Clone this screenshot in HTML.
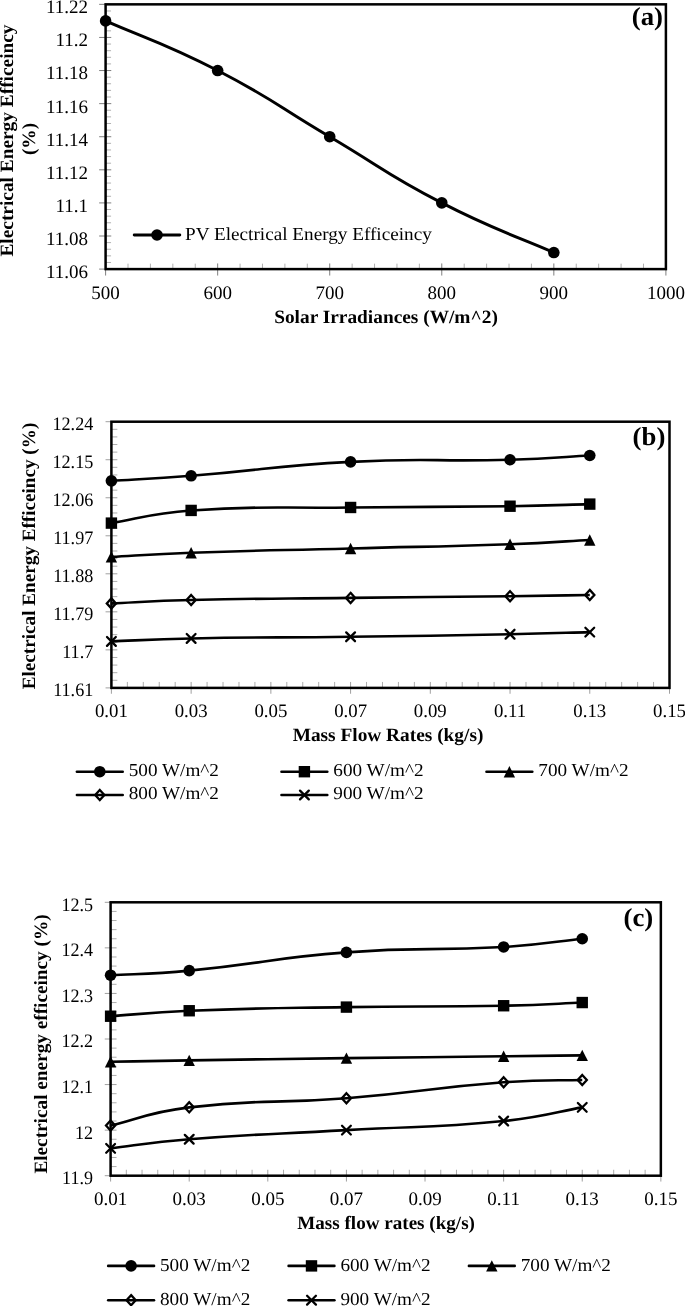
<!DOCTYPE html>
<html><head><meta charset="utf-8"><title>Charts</title>
<style>
html,body{margin:0;padding:0;background:#fff;}
body{width:685px;height:1306px;overflow:hidden;font-family:"Liberation Serif",serif;}
svg{display:block;will-change:transform;}
</style></head><body>
<svg width="685" height="1306" viewBox="0 0 685 1306" font-family='"Liberation Serif", serif' fill="#000" text-rendering="geometricPrecision">
<g>
<line x1="105.60" y1="263.45" x2="105.60" y2="275.55" stroke="#707070" stroke-width="0.90"/>
<line x1="128.01" y1="269.10" x2="128.01" y2="263.65" stroke="#a8a8a8" stroke-width="0.90"/>
<line x1="150.42" y1="269.10" x2="150.42" y2="263.65" stroke="#a8a8a8" stroke-width="0.90"/>
<line x1="172.84" y1="269.10" x2="172.84" y2="263.65" stroke="#a8a8a8" stroke-width="0.90"/>
<line x1="195.25" y1="269.10" x2="195.25" y2="263.65" stroke="#a8a8a8" stroke-width="0.90"/>
<line x1="217.66" y1="263.45" x2="217.66" y2="275.55" stroke="#707070" stroke-width="0.90"/>
<line x1="240.07" y1="269.10" x2="240.07" y2="263.65" stroke="#a8a8a8" stroke-width="0.90"/>
<line x1="262.48" y1="269.10" x2="262.48" y2="263.65" stroke="#a8a8a8" stroke-width="0.90"/>
<line x1="284.90" y1="269.10" x2="284.90" y2="263.65" stroke="#a8a8a8" stroke-width="0.90"/>
<line x1="307.31" y1="269.10" x2="307.31" y2="263.65" stroke="#a8a8a8" stroke-width="0.90"/>
<line x1="329.72" y1="263.45" x2="329.72" y2="275.55" stroke="#707070" stroke-width="0.90"/>
<line x1="352.13" y1="269.10" x2="352.13" y2="263.65" stroke="#a8a8a8" stroke-width="0.90"/>
<line x1="374.54" y1="269.10" x2="374.54" y2="263.65" stroke="#a8a8a8" stroke-width="0.90"/>
<line x1="396.96" y1="269.10" x2="396.96" y2="263.65" stroke="#a8a8a8" stroke-width="0.90"/>
<line x1="419.37" y1="269.10" x2="419.37" y2="263.65" stroke="#a8a8a8" stroke-width="0.90"/>
<line x1="441.78" y1="263.45" x2="441.78" y2="275.55" stroke="#707070" stroke-width="0.90"/>
<line x1="464.19" y1="269.10" x2="464.19" y2="263.65" stroke="#a8a8a8" stroke-width="0.90"/>
<line x1="486.60" y1="269.10" x2="486.60" y2="263.65" stroke="#a8a8a8" stroke-width="0.90"/>
<line x1="509.02" y1="269.10" x2="509.02" y2="263.65" stroke="#a8a8a8" stroke-width="0.90"/>
<line x1="531.43" y1="269.10" x2="531.43" y2="263.65" stroke="#a8a8a8" stroke-width="0.90"/>
<line x1="553.84" y1="263.45" x2="553.84" y2="275.55" stroke="#707070" stroke-width="0.90"/>
<line x1="576.25" y1="269.10" x2="576.25" y2="263.65" stroke="#a8a8a8" stroke-width="0.90"/>
<line x1="598.66" y1="269.10" x2="598.66" y2="263.65" stroke="#a8a8a8" stroke-width="0.90"/>
<line x1="621.08" y1="269.10" x2="621.08" y2="263.65" stroke="#a8a8a8" stroke-width="0.90"/>
<line x1="643.49" y1="269.10" x2="643.49" y2="263.65" stroke="#a8a8a8" stroke-width="0.90"/>
<line x1="665.90" y1="263.45" x2="665.90" y2="275.55" stroke="#707070" stroke-width="0.90"/>
<line x1="99.15" y1="4.35" x2="111.25" y2="4.35" stroke="#707070" stroke-width="0.90"/>
<line x1="105.60" y1="10.97" x2="111.05" y2="10.97" stroke="#a8a8a8" stroke-width="0.90"/>
<line x1="105.60" y1="17.59" x2="111.05" y2="17.59" stroke="#a8a8a8" stroke-width="0.90"/>
<line x1="105.60" y1="24.21" x2="111.05" y2="24.21" stroke="#a8a8a8" stroke-width="0.90"/>
<line x1="105.60" y1="30.83" x2="111.05" y2="30.83" stroke="#a8a8a8" stroke-width="0.90"/>
<line x1="99.15" y1="37.44" x2="111.25" y2="37.44" stroke="#707070" stroke-width="0.90"/>
<line x1="105.60" y1="44.06" x2="111.05" y2="44.06" stroke="#a8a8a8" stroke-width="0.90"/>
<line x1="105.60" y1="50.68" x2="111.05" y2="50.68" stroke="#a8a8a8" stroke-width="0.90"/>
<line x1="105.60" y1="57.30" x2="111.05" y2="57.30" stroke="#a8a8a8" stroke-width="0.90"/>
<line x1="105.60" y1="63.92" x2="111.05" y2="63.92" stroke="#a8a8a8" stroke-width="0.90"/>
<line x1="99.15" y1="70.54" x2="111.25" y2="70.54" stroke="#707070" stroke-width="0.90"/>
<line x1="105.60" y1="77.16" x2="111.05" y2="77.16" stroke="#a8a8a8" stroke-width="0.90"/>
<line x1="105.60" y1="83.77" x2="111.05" y2="83.77" stroke="#a8a8a8" stroke-width="0.90"/>
<line x1="105.60" y1="90.39" x2="111.05" y2="90.39" stroke="#a8a8a8" stroke-width="0.90"/>
<line x1="105.60" y1="97.01" x2="111.05" y2="97.01" stroke="#a8a8a8" stroke-width="0.90"/>
<line x1="99.15" y1="103.63" x2="111.25" y2="103.63" stroke="#707070" stroke-width="0.90"/>
<line x1="105.60" y1="110.25" x2="111.05" y2="110.25" stroke="#a8a8a8" stroke-width="0.90"/>
<line x1="105.60" y1="116.87" x2="111.05" y2="116.87" stroke="#a8a8a8" stroke-width="0.90"/>
<line x1="105.60" y1="123.49" x2="111.05" y2="123.49" stroke="#a8a8a8" stroke-width="0.90"/>
<line x1="105.60" y1="130.11" x2="111.05" y2="130.11" stroke="#a8a8a8" stroke-width="0.90"/>
<line x1="99.15" y1="136.72" x2="111.25" y2="136.72" stroke="#707070" stroke-width="0.90"/>
<line x1="105.60" y1="143.34" x2="111.05" y2="143.34" stroke="#a8a8a8" stroke-width="0.90"/>
<line x1="105.60" y1="149.96" x2="111.05" y2="149.96" stroke="#a8a8a8" stroke-width="0.90"/>
<line x1="105.60" y1="156.58" x2="111.05" y2="156.58" stroke="#a8a8a8" stroke-width="0.90"/>
<line x1="105.60" y1="163.20" x2="111.05" y2="163.20" stroke="#a8a8a8" stroke-width="0.90"/>
<line x1="99.15" y1="169.82" x2="111.25" y2="169.82" stroke="#707070" stroke-width="0.90"/>
<line x1="105.60" y1="176.44" x2="111.05" y2="176.44" stroke="#a8a8a8" stroke-width="0.90"/>
<line x1="105.60" y1="183.06" x2="111.05" y2="183.06" stroke="#a8a8a8" stroke-width="0.90"/>
<line x1="105.60" y1="189.67" x2="111.05" y2="189.67" stroke="#a8a8a8" stroke-width="0.90"/>
<line x1="105.60" y1="196.29" x2="111.05" y2="196.29" stroke="#a8a8a8" stroke-width="0.90"/>
<line x1="99.15" y1="202.91" x2="111.25" y2="202.91" stroke="#707070" stroke-width="0.90"/>
<line x1="105.60" y1="209.53" x2="111.05" y2="209.53" stroke="#a8a8a8" stroke-width="0.90"/>
<line x1="105.60" y1="216.15" x2="111.05" y2="216.15" stroke="#a8a8a8" stroke-width="0.90"/>
<line x1="105.60" y1="222.77" x2="111.05" y2="222.77" stroke="#a8a8a8" stroke-width="0.90"/>
<line x1="105.60" y1="229.39" x2="111.05" y2="229.39" stroke="#a8a8a8" stroke-width="0.90"/>
<line x1="99.15" y1="236.01" x2="111.25" y2="236.01" stroke="#707070" stroke-width="0.90"/>
<line x1="105.60" y1="242.62" x2="111.05" y2="242.62" stroke="#a8a8a8" stroke-width="0.90"/>
<line x1="105.60" y1="249.24" x2="111.05" y2="249.24" stroke="#a8a8a8" stroke-width="0.90"/>
<line x1="105.60" y1="255.86" x2="111.05" y2="255.86" stroke="#a8a8a8" stroke-width="0.90"/>
<line x1="105.60" y1="262.48" x2="111.05" y2="262.48" stroke="#a8a8a8" stroke-width="0.90"/>
<line x1="99.15" y1="269.10" x2="111.25" y2="269.10" stroke="#707070" stroke-width="0.90"/>
<rect x="105.60" y="4.35" width="560.30" height="264.75" fill="none" stroke="#000" stroke-width="2.50"/>
<path d="M105.60,20.90 C142.95,37.44 163.31,42.45 217.66,70.54 C275.37,100.36 273.69,103.63 329.72,136.72 C385.75,169.82 384.07,173.09 441.78,202.91 C496.13,231.00 516.49,236.01 553.84,252.55" fill="none" stroke="#000" stroke-width="2.90" stroke-linejoin="round"/>
<circle cx="105.60" cy="20.90" r="5.80" fill="#000"/>
<circle cx="217.66" cy="70.54" r="5.80" fill="#000"/>
<circle cx="329.72" cy="136.72" r="5.80" fill="#000"/>
<circle cx="441.78" cy="202.91" r="5.80" fill="#000"/>
<circle cx="553.84" cy="252.55" r="5.80" fill="#000"/>
<text transform="translate(105.60 299.00)" font-size="19.00" text-anchor="middle">500</text>
<text transform="translate(217.66 299.00)" font-size="19.00" text-anchor="middle">600</text>
<text transform="translate(329.72 299.00)" font-size="19.00" text-anchor="middle">700</text>
<text transform="translate(441.78 299.00)" font-size="19.00" text-anchor="middle">800</text>
<text transform="translate(553.84 299.00)" font-size="19.00" text-anchor="middle">900</text>
<text transform="translate(665.90 299.00)" font-size="19.00" text-anchor="middle">1000</text>
<text transform="translate(88.00 13.25)" font-size="19.00" text-anchor="end">11.22</text>
<text transform="translate(88.00 46.34)" font-size="19.00" text-anchor="end">11.2</text>
<text transform="translate(88.00 79.44)" font-size="19.00" text-anchor="end">11.18</text>
<text transform="translate(88.00 112.53)" font-size="19.00" text-anchor="end">11.16</text>
<text transform="translate(88.00 145.62)" font-size="19.00" text-anchor="end">11.14</text>
<text transform="translate(88.00 178.72)" font-size="19.00" text-anchor="end">11.12</text>
<text transform="translate(88.00 211.81)" font-size="19.00" text-anchor="end">11.1</text>
<text transform="translate(88.00 244.91)" font-size="19.00" text-anchor="end">11.08</text>
<text transform="translate(88.00 278.00)" font-size="19.00" text-anchor="end">11.06</text>
<text transform="translate(631.80 24.80) scale(1.0300 1)" font-size="26.00" text-anchor="start" font-weight="bold">(a)</text>
<text transform="translate(386.00 323.00) scale(1.0300 1)" font-size="18.80" text-anchor="middle" font-weight="bold">Solar Irradiances (W/m^2)</text>
<text transform="translate(13.40 140.50) rotate(-90) scale(1.0300 1)" font-size="18.80" text-anchor="middle" font-weight="bold">Electrical Energy Efficeincy</text>
<text transform="translate(35.20 139.00) rotate(-90) scale(1.0300 1)" font-size="18.80" text-anchor="middle" font-weight="bold">(%)</text>
<line x1="134.20" y1="235.00" x2="179.80" y2="235.00" stroke="#000" stroke-width="2.90" stroke-linecap="round"/>
<circle cx="157.00" cy="235.00" r="5.80" fill="#000"/>
<text transform="translate(185.00 239.80) scale(1.0500 1)" font-size="18.30" text-anchor="start">PV Electrical Energy Efficeincy</text>
</g>
<g>
<line x1="111.40" y1="681.95" x2="111.40" y2="693.75" stroke="#a0a0a0" stroke-width="1.00"/>
<line x1="127.35" y1="687.90" x2="127.35" y2="681.95" stroke="#adadad" stroke-width="1.00"/>
<line x1="143.29" y1="687.90" x2="143.29" y2="681.95" stroke="#adadad" stroke-width="1.00"/>
<line x1="159.24" y1="687.90" x2="159.24" y2="681.95" stroke="#adadad" stroke-width="1.00"/>
<line x1="175.18" y1="687.90" x2="175.18" y2="681.95" stroke="#adadad" stroke-width="1.00"/>
<line x1="191.13" y1="681.95" x2="191.13" y2="693.75" stroke="#a0a0a0" stroke-width="1.00"/>
<line x1="207.07" y1="687.90" x2="207.07" y2="681.95" stroke="#adadad" stroke-width="1.00"/>
<line x1="223.02" y1="687.90" x2="223.02" y2="681.95" stroke="#adadad" stroke-width="1.00"/>
<line x1="238.97" y1="687.90" x2="238.97" y2="681.95" stroke="#adadad" stroke-width="1.00"/>
<line x1="254.91" y1="687.90" x2="254.91" y2="681.95" stroke="#adadad" stroke-width="1.00"/>
<line x1="270.86" y1="681.95" x2="270.86" y2="693.75" stroke="#a0a0a0" stroke-width="1.00"/>
<line x1="286.80" y1="687.90" x2="286.80" y2="681.95" stroke="#adadad" stroke-width="1.00"/>
<line x1="302.75" y1="687.90" x2="302.75" y2="681.95" stroke="#adadad" stroke-width="1.00"/>
<line x1="318.69" y1="687.90" x2="318.69" y2="681.95" stroke="#adadad" stroke-width="1.00"/>
<line x1="334.64" y1="687.90" x2="334.64" y2="681.95" stroke="#adadad" stroke-width="1.00"/>
<line x1="350.59" y1="681.95" x2="350.59" y2="693.75" stroke="#a0a0a0" stroke-width="1.00"/>
<line x1="366.53" y1="687.90" x2="366.53" y2="681.95" stroke="#adadad" stroke-width="1.00"/>
<line x1="382.48" y1="687.90" x2="382.48" y2="681.95" stroke="#adadad" stroke-width="1.00"/>
<line x1="398.42" y1="687.90" x2="398.42" y2="681.95" stroke="#adadad" stroke-width="1.00"/>
<line x1="414.37" y1="687.90" x2="414.37" y2="681.95" stroke="#adadad" stroke-width="1.00"/>
<line x1="430.31" y1="681.95" x2="430.31" y2="693.75" stroke="#a0a0a0" stroke-width="1.00"/>
<line x1="446.26" y1="687.90" x2="446.26" y2="681.95" stroke="#adadad" stroke-width="1.00"/>
<line x1="462.21" y1="687.90" x2="462.21" y2="681.95" stroke="#adadad" stroke-width="1.00"/>
<line x1="478.15" y1="687.90" x2="478.15" y2="681.95" stroke="#adadad" stroke-width="1.00"/>
<line x1="494.10" y1="687.90" x2="494.10" y2="681.95" stroke="#adadad" stroke-width="1.00"/>
<line x1="510.04" y1="681.95" x2="510.04" y2="693.75" stroke="#a0a0a0" stroke-width="1.00"/>
<line x1="525.99" y1="687.90" x2="525.99" y2="681.95" stroke="#adadad" stroke-width="1.00"/>
<line x1="541.93" y1="687.90" x2="541.93" y2="681.95" stroke="#adadad" stroke-width="1.00"/>
<line x1="557.88" y1="687.90" x2="557.88" y2="681.95" stroke="#adadad" stroke-width="1.00"/>
<line x1="573.83" y1="687.90" x2="573.83" y2="681.95" stroke="#adadad" stroke-width="1.00"/>
<line x1="589.77" y1="681.95" x2="589.77" y2="693.75" stroke="#a0a0a0" stroke-width="1.00"/>
<line x1="605.72" y1="687.90" x2="605.72" y2="681.95" stroke="#adadad" stroke-width="1.00"/>
<line x1="621.66" y1="687.90" x2="621.66" y2="681.95" stroke="#adadad" stroke-width="1.00"/>
<line x1="637.61" y1="687.90" x2="637.61" y2="681.95" stroke="#adadad" stroke-width="1.00"/>
<line x1="653.55" y1="687.90" x2="653.55" y2="681.95" stroke="#adadad" stroke-width="1.00"/>
<line x1="669.50" y1="681.95" x2="669.50" y2="693.75" stroke="#a0a0a0" stroke-width="1.00"/>
<line x1="105.55" y1="421.70" x2="117.35" y2="421.70" stroke="#a0a0a0" stroke-width="1.00"/>
<line x1="111.40" y1="429.31" x2="117.35" y2="429.31" stroke="#adadad" stroke-width="1.00"/>
<line x1="111.40" y1="436.91" x2="117.35" y2="436.91" stroke="#adadad" stroke-width="1.00"/>
<line x1="111.40" y1="444.52" x2="117.35" y2="444.52" stroke="#adadad" stroke-width="1.00"/>
<line x1="111.40" y1="452.12" x2="117.35" y2="452.12" stroke="#adadad" stroke-width="1.00"/>
<line x1="105.55" y1="459.73" x2="117.35" y2="459.73" stroke="#a0a0a0" stroke-width="1.00"/>
<line x1="111.40" y1="467.33" x2="117.35" y2="467.33" stroke="#adadad" stroke-width="1.00"/>
<line x1="111.40" y1="474.94" x2="117.35" y2="474.94" stroke="#adadad" stroke-width="1.00"/>
<line x1="111.40" y1="482.55" x2="117.35" y2="482.55" stroke="#adadad" stroke-width="1.00"/>
<line x1="111.40" y1="490.15" x2="117.35" y2="490.15" stroke="#adadad" stroke-width="1.00"/>
<line x1="105.55" y1="497.76" x2="117.35" y2="497.76" stroke="#a0a0a0" stroke-width="1.00"/>
<line x1="111.40" y1="505.36" x2="117.35" y2="505.36" stroke="#adadad" stroke-width="1.00"/>
<line x1="111.40" y1="512.97" x2="117.35" y2="512.97" stroke="#adadad" stroke-width="1.00"/>
<line x1="111.40" y1="520.57" x2="117.35" y2="520.57" stroke="#adadad" stroke-width="1.00"/>
<line x1="111.40" y1="528.18" x2="117.35" y2="528.18" stroke="#adadad" stroke-width="1.00"/>
<line x1="105.55" y1="535.79" x2="117.35" y2="535.79" stroke="#a0a0a0" stroke-width="1.00"/>
<line x1="111.40" y1="543.39" x2="117.35" y2="543.39" stroke="#adadad" stroke-width="1.00"/>
<line x1="111.40" y1="551.00" x2="117.35" y2="551.00" stroke="#adadad" stroke-width="1.00"/>
<line x1="111.40" y1="558.60" x2="117.35" y2="558.60" stroke="#adadad" stroke-width="1.00"/>
<line x1="111.40" y1="566.21" x2="117.35" y2="566.21" stroke="#adadad" stroke-width="1.00"/>
<line x1="105.55" y1="573.81" x2="117.35" y2="573.81" stroke="#a0a0a0" stroke-width="1.00"/>
<line x1="111.40" y1="581.42" x2="117.35" y2="581.42" stroke="#adadad" stroke-width="1.00"/>
<line x1="111.40" y1="589.03" x2="117.35" y2="589.03" stroke="#adadad" stroke-width="1.00"/>
<line x1="111.40" y1="596.63" x2="117.35" y2="596.63" stroke="#adadad" stroke-width="1.00"/>
<line x1="111.40" y1="604.24" x2="117.35" y2="604.24" stroke="#adadad" stroke-width="1.00"/>
<line x1="105.55" y1="611.84" x2="117.35" y2="611.84" stroke="#a0a0a0" stroke-width="1.00"/>
<line x1="111.40" y1="619.45" x2="117.35" y2="619.45" stroke="#adadad" stroke-width="1.00"/>
<line x1="111.40" y1="627.05" x2="117.35" y2="627.05" stroke="#adadad" stroke-width="1.00"/>
<line x1="111.40" y1="634.66" x2="117.35" y2="634.66" stroke="#adadad" stroke-width="1.00"/>
<line x1="111.40" y1="642.27" x2="117.35" y2="642.27" stroke="#adadad" stroke-width="1.00"/>
<line x1="105.55" y1="649.87" x2="117.35" y2="649.87" stroke="#a0a0a0" stroke-width="1.00"/>
<line x1="111.40" y1="657.48" x2="117.35" y2="657.48" stroke="#adadad" stroke-width="1.00"/>
<line x1="111.40" y1="665.08" x2="117.35" y2="665.08" stroke="#adadad" stroke-width="1.00"/>
<line x1="111.40" y1="672.69" x2="117.35" y2="672.69" stroke="#adadad" stroke-width="1.00"/>
<line x1="111.40" y1="680.29" x2="117.35" y2="680.29" stroke="#adadad" stroke-width="1.00"/>
<line x1="105.55" y1="687.90" x2="117.35" y2="687.90" stroke="#a0a0a0" stroke-width="1.00"/>
<rect x="111.40" y="421.70" width="558.10" height="266.20" fill="none" stroke="#000" stroke-width="2.50"/>
<path d="M111.40,480.86 C137.98,479.17 151.31,478.95 191.13,475.79 C270.90,469.44 270.71,465.86 350.59,461.84 C430.17,457.83 430.35,461.84 510.04,459.73 C549.94,458.67 563.20,456.91 589.77,455.50" fill="none" stroke="#000" stroke-width="2.60" stroke-linejoin="round"/>
<circle cx="111.40" cy="480.86" r="5.80" fill="#000"/>
<circle cx="191.13" cy="475.79" r="5.80" fill="#000"/>
<circle cx="350.59" cy="461.84" r="5.80" fill="#000"/>
<circle cx="510.04" cy="459.73" r="5.80" fill="#000"/>
<circle cx="589.77" cy="455.50" r="5.80" fill="#000"/>
<path d="M111.40,523.11 C137.98,518.88 150.94,513.06 191.13,510.43 C270.53,505.24 270.85,508.53 350.59,507.48 C430.31,506.42 430.32,507.33 510.04,506.21 C549.92,505.64 563.20,504.80 589.77,504.10" fill="none" stroke="#000" stroke-width="2.60" stroke-linejoin="round"/>
<rect x="105.70" y="517.41" width="11.40" height="11.40" fill="#000"/>
<rect x="185.43" y="504.73" width="11.40" height="11.40" fill="#000"/>
<rect x="344.89" y="501.78" width="11.40" height="11.40" fill="#000"/>
<rect x="504.34" y="500.51" width="11.40" height="11.40" fill="#000"/>
<rect x="584.07" y="498.40" width="11.40" height="11.40" fill="#000"/>
<path d="M111.40,556.91 C137.98,555.50 151.24,554.10 191.13,552.69 C270.83,549.87 270.86,550.57 350.59,548.46 C430.31,546.35 430.34,547.05 510.04,544.24 C549.94,542.83 563.20,541.42 589.77,540.01" fill="none" stroke="#000" stroke-width="2.60" stroke-linejoin="round"/>
<path d="M111.40,551.21 L117.10,562.61 L105.70,562.61 Z" fill="#000"/>
<path d="M191.13,546.99 L196.83,558.39 L185.43,558.39 Z" fill="#000"/>
<path d="M350.59,542.76 L356.29,554.16 L344.89,554.16 Z" fill="#000"/>
<path d="M510.04,538.54 L515.74,549.94 L504.34,549.94 Z" fill="#000"/>
<path d="M589.77,534.31 L595.47,545.71 L584.07,545.71 Z" fill="#000"/>
<path d="M111.40,603.39 C137.98,602.27 151.24,600.93 191.13,600.01 C270.84,598.18 270.86,598.85 350.59,597.90 C430.31,596.95 430.32,597.19 510.04,596.21 C549.91,595.72 563.20,595.36 589.77,594.94" fill="none" stroke="#000" stroke-width="2.60" stroke-linejoin="round"/>
<path d="M111.40,598.33 L116.00,603.39 L111.40,608.45 L106.80,603.39 Z" fill="none" stroke="#000" stroke-width="2.30" stroke-linejoin="miter"/>
<path d="M191.13,594.95 L195.73,600.01 L191.13,605.07 L186.53,600.01 Z" fill="none" stroke="#000" stroke-width="2.30" stroke-linejoin="miter"/>
<path d="M350.59,592.84 L355.19,597.90 L350.59,602.96 L345.99,597.90 Z" fill="none" stroke="#000" stroke-width="2.30" stroke-linejoin="miter"/>
<path d="M510.04,591.15 L514.64,596.21 L510.04,601.27 L505.44,596.21 Z" fill="none" stroke="#000" stroke-width="2.30" stroke-linejoin="miter"/>
<path d="M589.77,589.88 L594.37,594.94 L589.77,600.00 L585.17,594.94 Z" fill="none" stroke="#000" stroke-width="2.30" stroke-linejoin="miter"/>
<path d="M111.40,641.42 C137.98,640.43 151.25,639.24 191.13,638.46 C270.84,636.91 270.86,637.83 350.59,636.77 C430.32,635.72 430.32,635.79 510.04,634.24 C549.91,633.46 563.20,632.83 589.77,632.12" fill="none" stroke="#000" stroke-width="2.60" stroke-linejoin="round"/>
<path d="M107.00,637.02 L115.80,645.82 M107.00,645.82 L115.80,637.02" fill="none" stroke="#000" stroke-width="2.30" stroke-linecap="round"/>
<path d="M186.73,634.06 L195.53,642.86 M186.73,642.86 L195.53,634.06" fill="none" stroke="#000" stroke-width="2.30" stroke-linecap="round"/>
<path d="M346.19,632.37 L354.99,641.17 M346.19,641.17 L354.99,632.37" fill="none" stroke="#000" stroke-width="2.30" stroke-linecap="round"/>
<path d="M505.64,629.84 L514.44,638.64 M505.64,638.64 L514.44,629.84" fill="none" stroke="#000" stroke-width="2.30" stroke-linecap="round"/>
<path d="M585.37,627.72 L594.17,636.52 M585.37,636.52 L594.17,627.72" fill="none" stroke="#000" stroke-width="2.30" stroke-linecap="round"/>
<text transform="translate(111.40 717.40) scale(0.9900 1)" font-size="19.00" text-anchor="middle">0.01</text>
<text transform="translate(191.13 717.40) scale(0.9900 1)" font-size="19.00" text-anchor="middle">0.03</text>
<text transform="translate(270.86 717.40) scale(0.9900 1)" font-size="19.00" text-anchor="middle">0.05</text>
<text transform="translate(350.59 717.40) scale(0.9900 1)" font-size="19.00" text-anchor="middle">0.07</text>
<text transform="translate(430.31 717.40) scale(0.9900 1)" font-size="19.00" text-anchor="middle">0.09</text>
<text transform="translate(510.04 717.40) scale(0.9900 1)" font-size="19.00" text-anchor="middle">0.11</text>
<text transform="translate(589.77 717.40) scale(0.9900 1)" font-size="19.00" text-anchor="middle">0.13</text>
<text transform="translate(669.50 717.40) scale(0.9900 1)" font-size="19.00" text-anchor="middle">0.15</text>
<text transform="translate(93.30 429.90) scale(0.9550 1)" font-size="19.00" text-anchor="end">12.24</text>
<text transform="translate(93.30 467.93) scale(0.9550 1)" font-size="19.00" text-anchor="end">12.15</text>
<text transform="translate(93.30 505.96) scale(0.9550 1)" font-size="19.00" text-anchor="end">12.06</text>
<text transform="translate(93.30 543.99) scale(0.9550 1)" font-size="19.00" text-anchor="end">11.97</text>
<text transform="translate(93.30 582.01) scale(0.9550 1)" font-size="19.00" text-anchor="end">11.88</text>
<text transform="translate(93.30 620.04) scale(0.9550 1)" font-size="19.00" text-anchor="end">11.79</text>
<text transform="translate(93.30 658.07) scale(0.9550 1)" font-size="19.00" text-anchor="end">11.7</text>
<text transform="translate(93.30 696.10) scale(0.9550 1)" font-size="19.00" text-anchor="end">11.61</text>
<text transform="translate(632.60 445.00) scale(1.0300 1)" font-size="26.00" text-anchor="start" font-weight="bold">(b)</text>
<text transform="translate(388.00 741.00) scale(1.0300 1)" font-size="18.80" text-anchor="middle" font-weight="bold">Mass Flow Rates (kg/s)</text>
<text transform="translate(35.00 556.00) rotate(-90) scale(1.0200 1)" font-size="18.80" text-anchor="middle" font-weight="bold">Electrical Energy Efficeincy (%)</text>
<line x1="76.90" y1="771.70" x2="122.70" y2="771.70" stroke="#000" stroke-width="2.60" stroke-linecap="round"/>
<circle cx="99.80" cy="771.70" r="5.80" fill="#000"/>
<text transform="translate(128.70 775.90) scale(1.0500 1)" font-size="18.30" text-anchor="start">500 W/m^2</text>
<line x1="281.50" y1="771.70" x2="327.30" y2="771.70" stroke="#000" stroke-width="2.60" stroke-linecap="round"/>
<rect x="298.70" y="766.00" width="11.40" height="11.40" fill="#000"/>
<text transform="translate(333.30 775.90) scale(1.0500 1)" font-size="18.30" text-anchor="start">600 W/m^2</text>
<line x1="486.50" y1="771.70" x2="532.30" y2="771.70" stroke="#000" stroke-width="2.60" stroke-linecap="round"/>
<path d="M509.40,766.00 L515.10,777.40 L503.70,777.40 Z" fill="#000"/>
<text transform="translate(538.30 775.90) scale(1.0500 1)" font-size="18.30" text-anchor="start">700 W/m^2</text>
<line x1="76.90" y1="795.00" x2="122.70" y2="795.00" stroke="#000" stroke-width="2.60" stroke-linecap="round"/>
<path d="M99.80,789.94 L104.40,795.00 L99.80,800.06 L95.20,795.00 Z" fill="none" stroke="#000" stroke-width="2.30" stroke-linejoin="miter"/>
<text transform="translate(128.70 799.20) scale(1.0500 1)" font-size="18.30" text-anchor="start">800 W/m^2</text>
<line x1="281.50" y1="795.00" x2="327.30" y2="795.00" stroke="#000" stroke-width="2.60" stroke-linecap="round"/>
<path d="M300.00,790.60 L308.80,799.40 M300.00,799.40 L308.80,790.60" fill="none" stroke="#000" stroke-width="2.30" stroke-linecap="round"/>
<text transform="translate(333.30 799.20) scale(1.0500 1)" font-size="18.30" text-anchor="start">900 W/m^2</text>
</g>
<g>
<line x1="110.60" y1="1169.75" x2="110.60" y2="1181.55" stroke="#a0a0a0" stroke-width="1.00"/>
<line x1="126.32" y1="1175.70" x2="126.32" y2="1169.75" stroke="#adadad" stroke-width="1.00"/>
<line x1="142.04" y1="1175.70" x2="142.04" y2="1169.75" stroke="#adadad" stroke-width="1.00"/>
<line x1="157.76" y1="1175.70" x2="157.76" y2="1169.75" stroke="#adadad" stroke-width="1.00"/>
<line x1="173.49" y1="1175.70" x2="173.49" y2="1169.75" stroke="#adadad" stroke-width="1.00"/>
<line x1="189.21" y1="1169.75" x2="189.21" y2="1181.55" stroke="#a0a0a0" stroke-width="1.00"/>
<line x1="204.93" y1="1175.70" x2="204.93" y2="1169.75" stroke="#adadad" stroke-width="1.00"/>
<line x1="220.65" y1="1175.70" x2="220.65" y2="1169.75" stroke="#adadad" stroke-width="1.00"/>
<line x1="236.37" y1="1175.70" x2="236.37" y2="1169.75" stroke="#adadad" stroke-width="1.00"/>
<line x1="252.09" y1="1175.70" x2="252.09" y2="1169.75" stroke="#adadad" stroke-width="1.00"/>
<line x1="267.81" y1="1169.75" x2="267.81" y2="1181.55" stroke="#a0a0a0" stroke-width="1.00"/>
<line x1="283.54" y1="1175.70" x2="283.54" y2="1169.75" stroke="#adadad" stroke-width="1.00"/>
<line x1="299.26" y1="1175.70" x2="299.26" y2="1169.75" stroke="#adadad" stroke-width="1.00"/>
<line x1="314.98" y1="1175.70" x2="314.98" y2="1169.75" stroke="#adadad" stroke-width="1.00"/>
<line x1="330.70" y1="1175.70" x2="330.70" y2="1169.75" stroke="#adadad" stroke-width="1.00"/>
<line x1="346.42" y1="1169.75" x2="346.42" y2="1181.55" stroke="#a0a0a0" stroke-width="1.00"/>
<line x1="362.14" y1="1175.70" x2="362.14" y2="1169.75" stroke="#adadad" stroke-width="1.00"/>
<line x1="377.86" y1="1175.70" x2="377.86" y2="1169.75" stroke="#adadad" stroke-width="1.00"/>
<line x1="393.59" y1="1175.70" x2="393.59" y2="1169.75" stroke="#adadad" stroke-width="1.00"/>
<line x1="409.31" y1="1175.70" x2="409.31" y2="1169.75" stroke="#adadad" stroke-width="1.00"/>
<line x1="425.03" y1="1169.75" x2="425.03" y2="1181.55" stroke="#a0a0a0" stroke-width="1.00"/>
<line x1="440.75" y1="1175.70" x2="440.75" y2="1169.75" stroke="#adadad" stroke-width="1.00"/>
<line x1="456.47" y1="1175.70" x2="456.47" y2="1169.75" stroke="#adadad" stroke-width="1.00"/>
<line x1="472.19" y1="1175.70" x2="472.19" y2="1169.75" stroke="#adadad" stroke-width="1.00"/>
<line x1="487.91" y1="1175.70" x2="487.91" y2="1169.75" stroke="#adadad" stroke-width="1.00"/>
<line x1="503.64" y1="1169.75" x2="503.64" y2="1181.55" stroke="#a0a0a0" stroke-width="1.00"/>
<line x1="519.36" y1="1175.70" x2="519.36" y2="1169.75" stroke="#adadad" stroke-width="1.00"/>
<line x1="535.08" y1="1175.70" x2="535.08" y2="1169.75" stroke="#adadad" stroke-width="1.00"/>
<line x1="550.80" y1="1175.70" x2="550.80" y2="1169.75" stroke="#adadad" stroke-width="1.00"/>
<line x1="566.52" y1="1175.70" x2="566.52" y2="1169.75" stroke="#adadad" stroke-width="1.00"/>
<line x1="582.24" y1="1169.75" x2="582.24" y2="1181.55" stroke="#a0a0a0" stroke-width="1.00"/>
<line x1="597.96" y1="1175.70" x2="597.96" y2="1169.75" stroke="#adadad" stroke-width="1.00"/>
<line x1="613.69" y1="1175.70" x2="613.69" y2="1169.75" stroke="#adadad" stroke-width="1.00"/>
<line x1="629.41" y1="1175.70" x2="629.41" y2="1169.75" stroke="#adadad" stroke-width="1.00"/>
<line x1="645.13" y1="1175.70" x2="645.13" y2="1169.75" stroke="#adadad" stroke-width="1.00"/>
<line x1="660.85" y1="1169.75" x2="660.85" y2="1181.55" stroke="#a0a0a0" stroke-width="1.00"/>
<line x1="104.75" y1="902.30" x2="116.55" y2="902.30" stroke="#a0a0a0" stroke-width="1.00"/>
<line x1="110.60" y1="911.41" x2="116.55" y2="911.41" stroke="#adadad" stroke-width="1.00"/>
<line x1="110.60" y1="920.53" x2="116.55" y2="920.53" stroke="#adadad" stroke-width="1.00"/>
<line x1="110.60" y1="929.64" x2="116.55" y2="929.64" stroke="#adadad" stroke-width="1.00"/>
<line x1="110.60" y1="938.75" x2="116.55" y2="938.75" stroke="#adadad" stroke-width="1.00"/>
<line x1="104.75" y1="947.87" x2="116.55" y2="947.87" stroke="#a0a0a0" stroke-width="1.00"/>
<line x1="110.60" y1="956.98" x2="116.55" y2="956.98" stroke="#adadad" stroke-width="1.00"/>
<line x1="110.60" y1="966.09" x2="116.55" y2="966.09" stroke="#adadad" stroke-width="1.00"/>
<line x1="110.60" y1="975.21" x2="116.55" y2="975.21" stroke="#adadad" stroke-width="1.00"/>
<line x1="110.60" y1="984.32" x2="116.55" y2="984.32" stroke="#adadad" stroke-width="1.00"/>
<line x1="104.75" y1="993.43" x2="116.55" y2="993.43" stroke="#a0a0a0" stroke-width="1.00"/>
<line x1="110.60" y1="1002.55" x2="116.55" y2="1002.55" stroke="#adadad" stroke-width="1.00"/>
<line x1="110.60" y1="1011.66" x2="116.55" y2="1011.66" stroke="#adadad" stroke-width="1.00"/>
<line x1="110.60" y1="1020.77" x2="116.55" y2="1020.77" stroke="#adadad" stroke-width="1.00"/>
<line x1="110.60" y1="1029.89" x2="116.55" y2="1029.89" stroke="#adadad" stroke-width="1.00"/>
<line x1="104.75" y1="1039.00" x2="116.55" y2="1039.00" stroke="#a0a0a0" stroke-width="1.00"/>
<line x1="110.60" y1="1048.11" x2="116.55" y2="1048.11" stroke="#adadad" stroke-width="1.00"/>
<line x1="110.60" y1="1057.23" x2="116.55" y2="1057.23" stroke="#adadad" stroke-width="1.00"/>
<line x1="110.60" y1="1066.34" x2="116.55" y2="1066.34" stroke="#adadad" stroke-width="1.00"/>
<line x1="110.60" y1="1075.45" x2="116.55" y2="1075.45" stroke="#adadad" stroke-width="1.00"/>
<line x1="104.75" y1="1084.57" x2="116.55" y2="1084.57" stroke="#a0a0a0" stroke-width="1.00"/>
<line x1="110.60" y1="1093.68" x2="116.55" y2="1093.68" stroke="#adadad" stroke-width="1.00"/>
<line x1="110.60" y1="1102.79" x2="116.55" y2="1102.79" stroke="#adadad" stroke-width="1.00"/>
<line x1="110.60" y1="1111.91" x2="116.55" y2="1111.91" stroke="#adadad" stroke-width="1.00"/>
<line x1="110.60" y1="1121.02" x2="116.55" y2="1121.02" stroke="#adadad" stroke-width="1.00"/>
<line x1="104.75" y1="1130.13" x2="116.55" y2="1130.13" stroke="#a0a0a0" stroke-width="1.00"/>
<line x1="110.60" y1="1139.25" x2="116.55" y2="1139.25" stroke="#adadad" stroke-width="1.00"/>
<line x1="110.60" y1="1148.36" x2="116.55" y2="1148.36" stroke="#adadad" stroke-width="1.00"/>
<line x1="110.60" y1="1157.47" x2="116.55" y2="1157.47" stroke="#adadad" stroke-width="1.00"/>
<line x1="110.60" y1="1166.59" x2="116.55" y2="1166.59" stroke="#adadad" stroke-width="1.00"/>
<line x1="104.75" y1="1175.70" x2="116.55" y2="1175.70" stroke="#a0a0a0" stroke-width="1.00"/>
<rect x="110.60" y="902.30" width="550.25" height="273.40" fill="none" stroke="#000" stroke-width="2.50"/>
<path d="M110.60,975.21 C136.80,973.69 150.03,974.43 189.21,970.65 C267.95,963.04 267.58,958.36 346.42,952.42 C424.79,946.52 425.15,951.50 503.64,946.96 C543.07,944.67 556.04,941.49 582.24,938.75" fill="none" stroke="#000" stroke-width="2.60" stroke-linejoin="round"/>
<circle cx="110.60" cy="975.21" r="5.80" fill="#000"/>
<circle cx="189.21" cy="970.65" r="5.80" fill="#000"/>
<circle cx="346.42" cy="952.42" r="5.80" fill="#000"/>
<circle cx="503.64" cy="946.96" r="5.80" fill="#000"/>
<circle cx="582.24" cy="938.75" r="5.80" fill="#000"/>
<path d="M110.60,1016.22 C136.80,1014.39 149.85,1012.27 189.21,1010.75 C267.76,1007.71 267.81,1008.36 346.42,1007.10 C425.02,1005.85 425.05,1007.25 503.64,1005.74 C542.96,1004.98 556.04,1003.61 582.24,1002.55" fill="none" stroke="#000" stroke-width="2.60" stroke-linejoin="round"/>
<rect x="104.90" y="1010.52" width="11.40" height="11.40" fill="#000"/>
<rect x="183.51" y="1005.05" width="11.40" height="11.40" fill="#000"/>
<rect x="340.72" y="1001.40" width="11.40" height="11.40" fill="#000"/>
<rect x="497.94" y="1000.04" width="11.40" height="11.40" fill="#000"/>
<rect x="576.54" y="996.85" width="11.40" height="11.40" fill="#000"/>
<path d="M110.60,1061.78 C136.80,1061.33 149.90,1061.02 189.21,1060.42 C267.81,1059.20 267.81,1059.16 346.42,1058.14 C425.03,1057.11 425.03,1057.23 503.64,1056.32 C542.94,1055.86 556.04,1055.71 582.24,1055.40" fill="none" stroke="#000" stroke-width="2.60" stroke-linejoin="round"/>
<path d="M110.60,1056.08 L116.30,1067.48 L104.90,1067.48 Z" fill="#000"/>
<path d="M189.21,1054.72 L194.91,1066.12 L183.51,1066.12 Z" fill="#000"/>
<path d="M346.42,1052.44 L352.12,1063.84 L340.72,1063.84 Z" fill="#000"/>
<path d="M503.64,1050.62 L509.34,1062.02 L497.94,1062.02 Z" fill="#000"/>
<path d="M582.24,1049.70 L587.94,1061.10 L576.54,1061.10 Z" fill="#000"/>
<path d="M110.60,1125.58 C136.80,1119.50 149.26,1111.98 189.21,1107.35 C267.17,1098.31 267.95,1104.49 346.42,1098.24 C425.16,1091.96 424.91,1088.37 503.64,1082.29 C542.82,1079.26 556.04,1080.77 582.24,1080.01" fill="none" stroke="#000" stroke-width="2.60" stroke-linejoin="round"/>
<path d="M110.60,1120.52 L115.20,1125.58 L110.60,1130.64 L106.00,1125.58 Z" fill="none" stroke="#000" stroke-width="2.30" stroke-linejoin="miter"/>
<path d="M189.21,1102.29 L193.81,1107.35 L189.21,1112.41 L184.61,1107.35 Z" fill="none" stroke="#000" stroke-width="2.30" stroke-linejoin="miter"/>
<path d="M346.42,1093.18 L351.02,1098.24 L346.42,1103.30 L341.82,1098.24 Z" fill="none" stroke="#000" stroke-width="2.30" stroke-linejoin="miter"/>
<path d="M503.64,1077.23 L508.24,1082.29 L503.64,1087.35 L499.04,1082.29 Z" fill="none" stroke="#000" stroke-width="2.30" stroke-linejoin="miter"/>
<path d="M582.24,1074.95 L586.84,1080.01 L582.24,1085.07 L577.64,1080.01 Z" fill="none" stroke="#000" stroke-width="2.30" stroke-linejoin="miter"/>
<path d="M110.60,1148.36 C136.80,1145.32 149.77,1142.29 189.21,1139.25 C267.68,1133.18 267.81,1134.69 346.42,1130.13 C425.03,1125.58 425.38,1128.58 503.64,1121.02 C543.29,1117.19 556.04,1111.91 582.24,1107.35" fill="none" stroke="#000" stroke-width="2.60" stroke-linejoin="round"/>
<path d="M106.20,1143.96 L115.00,1152.76 M106.20,1152.76 L115.00,1143.96" fill="none" stroke="#000" stroke-width="2.30" stroke-linecap="round"/>
<path d="M184.81,1134.85 L193.61,1143.65 M184.81,1143.65 L193.61,1134.85" fill="none" stroke="#000" stroke-width="2.30" stroke-linecap="round"/>
<path d="M342.02,1125.73 L350.82,1134.53 M342.02,1134.53 L350.82,1125.73" fill="none" stroke="#000" stroke-width="2.30" stroke-linecap="round"/>
<path d="M499.24,1116.62 L508.04,1125.42 M499.24,1125.42 L508.04,1116.62" fill="none" stroke="#000" stroke-width="2.30" stroke-linecap="round"/>
<path d="M577.84,1102.95 L586.64,1111.75 M577.84,1111.75 L586.64,1102.95" fill="none" stroke="#000" stroke-width="2.30" stroke-linecap="round"/>
<text transform="translate(110.60 1204.50)" font-size="19.00" text-anchor="middle">0.01</text>
<text transform="translate(189.21 1204.50)" font-size="19.00" text-anchor="middle">0.03</text>
<text transform="translate(267.81 1204.50)" font-size="19.00" text-anchor="middle">0.05</text>
<text transform="translate(346.42 1204.50)" font-size="19.00" text-anchor="middle">0.07</text>
<text transform="translate(425.03 1204.50)" font-size="19.00" text-anchor="middle">0.09</text>
<text transform="translate(503.64 1204.50)" font-size="19.00" text-anchor="middle">0.11</text>
<text transform="translate(582.24 1204.50)" font-size="19.00" text-anchor="middle">0.13</text>
<text transform="translate(660.85 1204.50)" font-size="19.00" text-anchor="middle">0.15</text>
<text transform="translate(93.00 910.70) scale(0.9500 1)" font-size="19.00" text-anchor="end">12.5</text>
<text transform="translate(93.00 956.27) scale(0.9500 1)" font-size="19.00" text-anchor="end">12.4</text>
<text transform="translate(93.00 1001.83) scale(0.9500 1)" font-size="19.00" text-anchor="end">12.3</text>
<text transform="translate(93.00 1047.40) scale(0.9500 1)" font-size="19.00" text-anchor="end">12.2</text>
<text transform="translate(93.00 1092.97) scale(0.9500 1)" font-size="19.00" text-anchor="end">12.1</text>
<text transform="translate(93.00 1138.53) scale(0.9500 1)" font-size="19.00" text-anchor="end">12</text>
<text transform="translate(93.00 1184.10) scale(0.9500 1)" font-size="19.00" text-anchor="end">11.9</text>
<text transform="translate(623.50 926.00) scale(1.0300 1)" font-size="26.00" text-anchor="start" font-weight="bold">(c)</text>
<text transform="translate(386.10 1229.30) scale(1.0170 1)" font-size="18.80" text-anchor="middle" font-weight="bold">Mass flow rates (kg/s)</text>
<text transform="translate(47.30 1044.00) rotate(-90) scale(1.0250 1)" font-size="18.80" text-anchor="middle" font-weight="bold">Electrical energy efficeincy (%)</text>
<line x1="108.20" y1="1265.90" x2="154.00" y2="1265.90" stroke="#000" stroke-width="2.60" stroke-linecap="round"/>
<circle cx="131.10" cy="1265.90" r="5.80" fill="#000"/>
<text transform="translate(160.00 1270.70) scale(1.0500 1)" font-size="18.30" text-anchor="start">500 W/m^2</text>
<line x1="288.60" y1="1265.90" x2="334.40" y2="1265.90" stroke="#000" stroke-width="2.60" stroke-linecap="round"/>
<rect x="305.80" y="1260.20" width="11.40" height="11.40" fill="#000"/>
<text transform="translate(340.40 1270.70) scale(1.0500 1)" font-size="18.30" text-anchor="start">600 W/m^2</text>
<line x1="468.90" y1="1265.90" x2="514.70" y2="1265.90" stroke="#000" stroke-width="2.60" stroke-linecap="round"/>
<path d="M491.80,1260.20 L497.50,1271.60 L486.10,1271.60 Z" fill="#000"/>
<text transform="translate(520.70 1270.70) scale(1.0500 1)" font-size="18.30" text-anchor="start">700 W/m^2</text>
<line x1="108.20" y1="1300.20" x2="154.00" y2="1300.20" stroke="#000" stroke-width="2.60" stroke-linecap="round"/>
<path d="M131.10,1295.14 L135.70,1300.20 L131.10,1305.26 L126.50,1300.20 Z" fill="none" stroke="#000" stroke-width="2.30" stroke-linejoin="miter"/>
<text transform="translate(160.00 1305.00) scale(1.0500 1)" font-size="18.30" text-anchor="start">800 W/m^2</text>
<line x1="288.60" y1="1300.20" x2="334.40" y2="1300.20" stroke="#000" stroke-width="2.60" stroke-linecap="round"/>
<path d="M307.10,1295.80 L315.90,1304.60 M307.10,1304.60 L315.90,1295.80" fill="none" stroke="#000" stroke-width="2.30" stroke-linecap="round"/>
<text transform="translate(340.40 1305.00) scale(1.0500 1)" font-size="18.30" text-anchor="start">900 W/m^2</text>
</g>
</svg>
</body></html>
